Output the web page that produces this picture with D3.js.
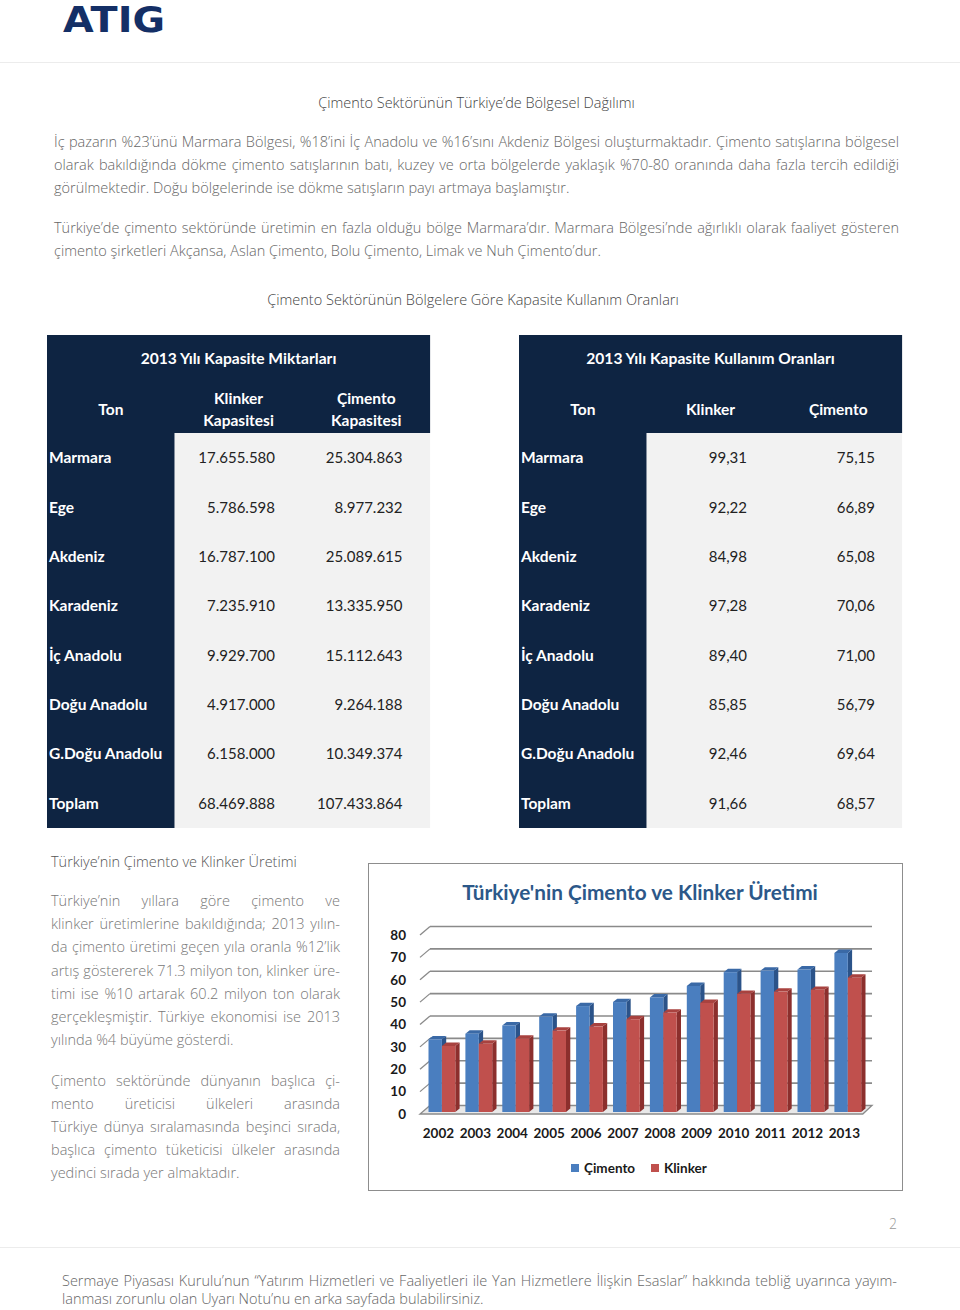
<!DOCTYPE html>
<html>
<head>
<meta charset="utf-8">
<script src="https://cdn.jsdelivr.net/npm/d3@7"></script>
<style>
  html, body { margin: 0; padding: 0; background: #fff; }
  svg { display: block; }
</style>
</head>
<body>
<script>
// ---------- DATA ----------
const regions = ["Marmara", "Ege", "Akdeniz", "Karadeniz", "İç Anadolu", "Doğu Anadolu", "G.Doğu Anadolu", "Toplam"];
const klinkerCapacity = ["17.655.580", "5.786.598", "16.787.100", "7.235.910", "9.929.700", "4.917.000", "6.158.000", "68.469.888"];
const cimentoCapacity = ["25.304.863", "8.977.232", "25.089.615", "13.335.950", "15.112.643", "9.264.188", "10.349.374", "107.433.864"];
const klinkerRate = ["99,31", "92,22", "84,98", "97,28", "89,40", "85,85", "92,46", "91,66"];
const cimentoRate = ["75,15", "66,89", "65,08", "70,06", "71,00", "56,79", "69,64", "68,57"];

const years = ["2002", "2003", "2004", "2005", "2006", "2007", "2008", "2009", "2010", "2011", "2012", "2013"];
const cimentoProd = [32.6, 35.1, 38.8, 42.8, 47.5, 49.3, 51.4, 56.5, 62.7, 63.4, 63.9, 71.3];
const klinkerProd = [29.6, 30.6, 32.9, 36.5, 38.4, 41.6, 44.6, 48.9, 53.0, 54.0, 54.8, 60.2];
const yTicks = [0, 10, 20, 30, 40, 50, 60, 70, 80];
const seriesNames = ["Çimento", "Klinker"];

// ---------- TEXTS ----------
const heading1 = "Çimento Sektörünün Türkiye’de Bölgesel Dağılımı";
const para1 = [
  "İç pazarın %23’ünü Marmara Bölgesi, %18’ini İç Anadolu ve %16’sını Akdeniz Bölgesi oluşturmaktadır. Çimento satışlarına bölgesel",
  "olarak bakıldığında dökme çimento satışlarının batı, kuzey ve orta bölgelerde yaklaşık %70-80 oranında daha fazla tercih edildiği",
  "görülmektedir. Doğu bölgelerinde ise dökme satışların payı artmaya başlamıştır."
];
const para2 = [
  "Türkiye’de çimento sektöründe üretimin en fazla olduğu bölge Marmara’dır. Marmara Bölgesi’nde ağırlıklı olarak faaliyet gösteren",
  "çimento şirketleri Akçansa, Aslan Çimento, Bolu Çimento, Limak ve Nuh Çimento’dur."
];
const heading2 = "Çimento Sektörünün Bölgelere Göre Kapasite Kullanım Oranları";
const sideTitle = "Türkiye’nin Çimento ve Klinker Üretimi";
const sidePara1 = [
  "Türkiye’nin yıllara göre çimento ve",
  "klinker üretimlerine bakıldığında; 2013 yılın-",
  "da çimento üretimi geçen yıla oranla %12’lik",
  "artış göstererek 71.3 milyon ton, klinker üre-",
  "timi ise %10 artarak 60.2 milyon ton olarak",
  "gerçekleşmiştir. Türkiye ekonomisi ise 2013",
  "yılında %4 büyüme gösterdi."
];
const sidePara2 = [
  "Çimento sektöründe dünyanın başlıca çi-",
  "mento üreticisi ülkeleri arasında",
  "Türkiye dünya sıralamasında beşinci sırada,",
  "başlıca çimento tüketicisi ülkeler arasında",
  "yedinci sırada yer almaktadır."
];
const footer = [
  "Sermaye Piyasası Kurulu’nun “Yatırım Hizmetleri ve Faaliyetleri ile Yan Hizmetlere İlişkin Esaslar” hakkında tebliğ uyarınca yayım-",
  "lanması zorunlu olan Uyarı Notu’nu en arka sayfada bulabilirsiniz."
];
const chartTitle = "Türkiye'nin Çimento ve Klinker Üretimi";

// ---------- SETUP ----------
const svg = d3.select("body").append("svg").attr("width", 960).attr("height", 1310);
const SANS = "'Open Sans', 'Noto Sans', sans-serif";
const CAL = "Lato, 'Open Sans', sans-serif";

function txt(x, y, s, o = {}) {
  const t = svg.append("text").attr("x", x).attr("y", y).text(s)
    .attr("font-family", o.family || SANS)
    .attr("font-size", o.size || 14)
    .attr("font-weight", o.weight || 400)
    .attr("fill", o.fill || "#333")
    .attr("text-anchor", o.anchor || "start");
  return t;
}
function justify(t, width) {
  const n = (t.text().match(/ /g) || []).length;
  const w = t.node().getComputedTextLength();
  if (n > 0) t.attr("word-spacing", (width - w) / n);
}
function fitWidth(t, width) {
  const w = t.node().getComputedTextLength();
  const fs = +t.attr("font-size");
  t.attr("font-size", fs * width / w);
}

// ---------- HEADER ----------
const logo = txt(63, 31.5, "ATIG", { family: "'DejaVu Sans', sans-serif", size: 35, weight: 700, fill: "#142f66" });
logo.attr("textLength", 102).attr("lengthAdjust", "spacingAndGlyphs");
svg.append("line").attr("x1", 0).attr("x2", 960).attr("y1", 62.5).attr("y2", 62.5).attr("stroke", "#ececec");

const h1 = txt(476.5, 108, heading1, { size: 14.5, weight: 300, fill: "#444", anchor: "middle" });
fitWidth(h1, 317);

para1.forEach((s, i) => {
  const t = txt(54, 147 + i * 23, s, { size: 14.5, weight: 300, fill: "#666" });
  if (i < para1.length - 1) justify(t, 845);
});
para2.forEach((s, i) => {
  const t = txt(54, 233 + i * 23, s, { size: 14.5, weight: 300, fill: "#666" });
  if (i < para2.length - 1) justify(t, 845);
});

const h2 = txt(473, 305, heading2, { size: 14.5, weight: 300, fill: "#444", anchor: "middle" });
fitWidth(h2, 412);

// ---------- TABLES ----------
const NAVY = "#0e2442";
const rowY = d3.scaleBand().domain(d3.range(regions.length)).range([433, 828]);

function table(x0, title, head, colA, colB, rightA, rightB, twoLine) {
  const cw = 127.7;
  const g = svg.append("g");
  g.append("rect").attr("x", x0).attr("y", 335).attr("width", cw * 3).attr("height", 98).attr("fill", NAVY);
  g.append("rect").attr("x", x0).attr("y", 433).attr("width", cw).attr("height", 395).attr("fill", NAVY);
  g.append("rect").attr("x", x0 + cw).attr("y", 433).attr("width", cw * 2).attr("height", 395).attr("fill", "#f2f2f2");
  txt(x0 + cw * 1.5, 364, title, { family: CAL, size: 15.6, weight: 700, fill: "#fff", anchor: "middle" });
  txt(x0 + cw * 0.5, 414.5, "Ton", { family: CAL, size: 15.5, weight: 700, fill: "#fff", anchor: "middle" });
  head.forEach((h, j) => {
    const cx = x0 + cw * (1.5 + j);
    if (twoLine) {
      txt(cx, 403.5, h[0], { family: CAL, size: 15.5, weight: 700, fill: "#fff", anchor: "middle" });
      txt(cx, 425.5, h[1], { family: CAL, size: 15.5, weight: 700, fill: "#fff", anchor: "middle" });
    } else {
      txt(cx, 414.5, h[0], { family: CAL, size: 15.5, weight: 700, fill: "#fff", anchor: "middle" });
    }
  });
  regions.forEach((r, i) => {
    const cy = rowY(i) + rowY.bandwidth() / 2 + 5.5;
    txt(x0 + 2, cy, r, { family: CAL, size: 15.5, weight: 700, fill: "#fff" });
    txt(rightA, cy, colA[i], { family: CAL, size: 15, weight: 400, fill: "#222", anchor: "end" });
    txt(rightB, cy, colB[i], { family: CAL, size: 15, weight: 400, fill: "#222", anchor: "end" });
  });
}
table(47, "2013 Yılı Kapasite Miktarları", [["Klinker", "Kapasitesi"], ["Çimento", "Kapasitesi"]],
  klinkerCapacity, cimentoCapacity, 275, 402.5, true);
table(519, "2013 Yılı Kapasite Kullanım Oranları", [["Klinker"], ["Çimento"]],
  klinkerRate, cimentoRate, 747, 875, false);

// ---------- SIDE TEXT ----------
const st = txt(51, 867, sideTitle, { size: 14.5, weight: 300, fill: "#555" });
fitWidth(st, 246);
sidePara1.forEach((s, i) => {
  const t = txt(51, 906 + i * 23.2, s, { size: 14.5, weight: 300, fill: "#777" });
  if (i < sidePara1.length - 1) justify(t, 289);
});
sidePara2.forEach((s, i) => {
  const t = txt(51, 1086 + i * 23.1, s, { size: 14.5, weight: 300, fill: "#777" });
  if (i < sidePara2.length - 1) justify(t, 289);
});

// ---------- CHART ----------
svg.append("rect").attr("x", 368.5).attr("y", 863.5).attr("width", 534).attr("height", 327)
  .attr("fill", "#fff").attr("stroke", "#8d8d8d").attr("stroke-width", 1);

const ct = txt(640, 900, chartTitle, { family: CAL, size: 21, weight: 700, fill: "#2c5889", anchor: "middle" });
fitWidth(ct, 356);

const x = d3.scaleBand().domain(years).range([420, 862.8]);
const yFront = d3.scaleLinear().domain([0, 80]).range([1114, 935]);
const yBar = d3.scaleLinear().domain([0, 80]).range([1112, 933.6]);
const WDX = 10, WDY = -8.5;
const backRight = 872;
const GRID = "#8a8a8a";

const grid = svg.append("g");
yTicks.forEach(v => {
  const yf = yFront(v), yb = yf + WDY;
  if (v === 0) {
    grid.append("path")
      .attr("d", `M${x.range()[0]},${yf} L${x.range()[1]},${yf} L${backRight},${yb} L${x.range()[0] + WDX},${yb} Z`)
      .attr("fill", "#e8e8e8").attr("stroke", GRID).attr("stroke-width", 1.3);
  } else {
    grid.append("line").attr("x1", x.range()[0] + WDX).attr("x2", backRight).attr("y1", yb).attr("y2", yb)
      .attr("stroke", GRID).attr("stroke-width", 1.6);
    grid.append("line").attr("x1", x.range()[0]).attr("x2", x.range()[0] + WDX).attr("y1", yf).attr("y2", yb)
      .attr("stroke", GRID).attr("stroke-width", 1.3);
  }
  txt(406, yf + 4.8, String(v), { family: CAL, size: 13.5, weight: 700, fill: "#1a1a1a", anchor: "end" });
});

const BW = 13.4, BDX = 4.3, BDY = -3.4, OFF = 8.5;
const palette = [
  { front: "#4a7ebf", side: "#2b5389", top: "#3a69a6" },
  { front: "#c0504d", side: "#8c2f2d", top: "#a8423f" }
];
const bars = svg.append("g");
years.forEach((yr, i) => {
  [cimentoProd[i], klinkerProd[i]].forEach((v, s) => {
    const x0 = x(yr) + OFF + s * BW, x1 = x0 + BW;
    const yt = yBar(v), yb = yBar(0);
    const c = palette[s];
    bars.append("path")
      .attr("d", `M${x1},${yt} L${x1 + BDX},${yt + BDY} L${x1 + BDX},${yb + BDY} L${x1},${yb} Z`)
      .attr("fill", c.side);
    bars.append("path")
      .attr("d", `M${x0},${yt} L${x1},${yt} L${x1 + BDX},${yt + BDY} L${x0 + BDX},${yt + BDY} Z`)
      .attr("fill", c.top);
    bars.append("rect").attr("x", x0).attr("y", yt).attr("width", BW).attr("height", yb - yt)
      .attr("fill", c.front);
  });
  txt(x(yr) + x.bandwidth() / 2, 1137.5, yr, { family: CAL, size: 13.5, weight: 700, fill: "#1a1a1a", anchor: "middle" });
});

// legend
const legX = [571, 651];
seriesNames.forEach((n, i) => {
  svg.append("rect").attr("x", legX[i]).attr("y", 1164).attr("width", 8).attr("height", 8).attr("fill", palette[i].front);
  txt(legX[i] + 13, 1172.5, n, { family: CAL, size: 13.5, weight: 700, fill: "#1a1a1a" });
});

// ---------- FOOTER ----------
txt(893, 1229, "2", { size: 14, weight: 300, fill: "#999", anchor: "middle" });
svg.append("line").attr("x1", 0).attr("x2", 960).attr("y1", 1247.5).attr("y2", 1247.5).attr("stroke", "#ececec");
footer.forEach((s, i) => {
  const t = txt(62, 1286 + i * 18, s, { size: 14.5, weight: 300, fill: "#666" });
  if (i === 0) justify(t, 835);
});
</script>
</body>
</html>
